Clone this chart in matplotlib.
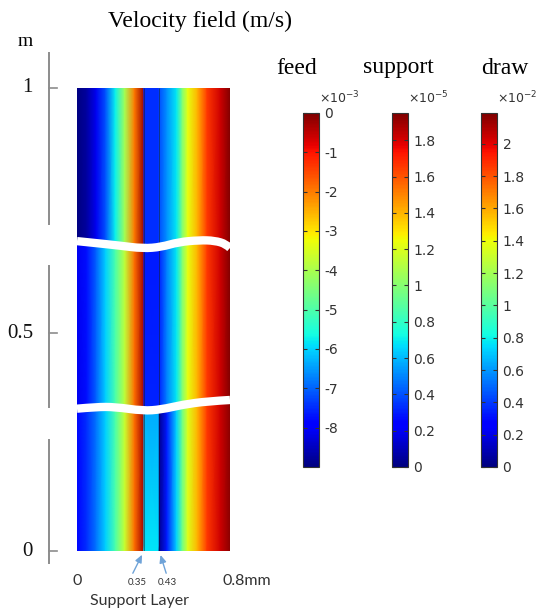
import numpy as np
import matplotlib
matplotlib.use("Agg")
import matplotlib.pyplot as plt
from matplotlib.patches import PathPatch
from matplotlib.path import Path
from matplotlib import colors, cm

plt.rcParams["axes.unicode_minus"] = False
plt.rcParams["mathtext.fontset"] = "dejavusans"

# ---------------- data ----------------
# feed channel velocity (x10^-3 m/s) across the feed side, per section (top, middle, bottom)
feed_x = [0.00, 0.05, 0.10, 0.15, 0.20, 0.25, 0.30, 0.35]
feed_top = [-9.00, -8.73, -8.10, -7.11, -5.76, -4.05, -1.98, -0.18]
feed_mid = [-8.10, -7.74, -7.02, -6.03, -5.04, -3.78, -1.89, -0.27]
feed_bot = [-7.83, -7.47, -6.84, -6.03, -5.04, -3.69, -1.89, -0.27]

# support layer velocity (x10^-5 m/s): value at upper / lower edge of each section
support_x = [0.35, 0.43]
support_upper = [0.33, 0.29, 0.57]
support_lower = [0.33, 0.31, 0.68]

# draw channel velocity (x10^-2 m/s)
draw_x = [0.43, 0.47, 0.52, 0.55, 0.58, 0.63, 0.68, 0.75, 0.80]
draw_top = [0.44, 0.59, 0.77, 1.10, 1.38, 1.58, 1.86, 2.04, 2.19]
draw_mid = [0.35, 0.55, 0.77, 1.10, 1.38, 1.58, 1.86, 2.04, 2.19]
draw_bot = [0.04, 0.33, 0.72, 1.05, 1.36, 1.58, 1.86, 2.04, 2.17]

# axis breaks (m): control points of the wavy break lines
break1_x = [0.0, 0.10, 0.22, 0.345, 0.44, 0.53, 0.64, 0.72, 0.78, 0.80]
break1_y = [0.688, 0.684, 0.679, 0.673, 0.676, 0.686, 0.690, 0.689, 0.682, 0.674]
break2_x = [0.0, 0.10, 0.20, 0.345, 0.44, 0.55, 0.68, 0.80]
break2_y = [0.327, 0.331, 0.331, 0.322, 0.325, 0.336, 0.344, 0.347]

# colorbar ranges and ticks
feed_range = (-9.0, 0.0)
support_range = (0.0, 1.95)
draw_range = (0.0, 2.19)
feed_ticks = [0, -1, -2, -3, -4, -5, -6, -7, -8]
support_ticks = [0, 0.2, 0.4, 0.6, 0.8, 1, 1.2, 1.4, 1.6, 1.8]
draw_ticks = [0, 0.2, 0.4, 0.6, 0.8, 1, 1.2, 1.4, 1.6, 1.8, 2]

y_ticks = [0, 0.5, 1]
y_ticklabels = ["0", "0.5", "1"]
axis_segments = [(1.071, 0.723), (0.637, 0.331), (0.255, -0.028)]

# ---------------- figure ----------------
W, H = 555, 615
fig = plt.figure(figsize=(W / 100, H / 100), dpi=100)

def fx(px):
    return px / W

def fy(py):
    return 1 - py / H

ax = fig.add_axes([fx(77), fy(551), fx(230) - fx(77), fy(88) - fy(551)])

def fwd(y):
    y = np.asarray(y, dtype=float)
    return np.where(y < 0.5, y * 0.94, 0.47 + (y - 0.5) * 1.06)

def inv(f):
    f = np.asarray(f, dtype=float)
    return np.where(f < 0.47, f / 0.94, 0.5 + (f - 0.47) / 1.06)

ax.set_yscale("function", functions=(fwd, inv))
ax.set_xlim(0, 0.8)
ax.set_ylim(0, 1)
ax.set_axis_off()

cmap = plt.get_cmap("jet")
feed_norm = colors.Normalize(*feed_range)
support_norm = colors.Normalize(*support_range)
draw_norm = colors.Normalize(*draw_range)


def smooth_segments(pts, start_code=Path.MOVETO):
    """Quadratic-Bezier smoothing through control points (vertices, codes)."""
    verts = [pts[0]]
    codes = [start_code]
    for i in range(1, len(pts) - 1):
        mid = ((pts[i][0] + pts[i + 1][0]) / 2, (pts[i][1] + pts[i + 1][1]) / 2)
        if i == len(pts) - 2:
            mid = pts[i + 1]
        verts += [pts[i], mid]
        codes += [Path.CURVE3, Path.CURVE3]
    return verts, codes


b1 = list(zip(break1_x, break1_y))
b2 = list(zip(break2_x, break2_y))


def region_path(upper, lower):
    verts, codes = [], []
    if upper is None:
        verts += [(0, 1), (0.8, 1)]
        codes += [Path.MOVETO, Path.LINETO]
    else:
        v, c = smooth_segments(upper)
        verts += v
        codes += c
    if lower is None:
        verts += [(0.8, 0), (0, 0)]
        codes += [Path.LINETO, Path.LINETO]
    else:
        v, c = smooth_segments(lower[::-1], Path.LINETO)
        verts += v
        codes += c
    verts.append((0, 0))
    codes.append(Path.CLOSEPOLY)
    return Path(verts, codes)


sections = [
    (region_path(None, b1), min(break1_y), 1.0, feed_top, support_upper[0], support_lower[0], draw_top),
    (region_path(b1, b2), min(break2_y), max(break1_y), feed_mid, support_upper[1], support_lower[1], draw_mid),
    (region_path(b2, None), 0.0, max(break2_y), feed_bot, support_upper[2], support_lower[2], draw_bot),
]

for path, ylo, yhi, fv, su, sl, dv in sections:
    clip = PathPatch(path, transform=ax.transData)
    # feed
    X = np.array([feed_x, feed_x])
    Y = np.array([[ylo] * len(feed_x), [yhi] * len(feed_x)])
    C = np.array([fv, fv])
    m = ax.pcolormesh(X, Y, C, shading="gouraud", cmap=cmap, norm=feed_norm)
    m.set_clip_path(clip)
    # support
    X = np.array([support_x, support_x])
    Y = np.array([[ylo, ylo], [yhi, yhi]])
    C = np.array([[sl, sl], [su, su]])
    m = ax.pcolormesh(X, Y, C, shading="gouraud", cmap=cmap, norm=support_norm)
    m.set_clip_path(clip)
    # draw
    X = np.array([draw_x, draw_x])
    Y = np.array([[ylo] * len(draw_x), [yhi] * len(draw_x)])
    C = np.array([dv, dv])
    m = ax.pcolormesh(X, Y, C, shading="gouraud", cmap=cmap, norm=draw_norm)
    m.set_clip_path(clip)

ax.vlines([support_x[0], support_x[1]], 0, 1, color="#1a1a1a", lw=0.6, alpha=0.6, zorder=3)
for b in (b1, b2):
    v, c = smooth_segments(b)
    ax.add_patch(PathPatch(Path(v, c), fill=False, edgecolor="white", lw=6.0,
                           capstyle="butt", clip_on=False, zorder=5))

# broken y axis
ytr = ax.get_yaxis_transform()
ax_x = (48.5 - 77) / 153
for y0, y1 in axis_segments:
    ax.plot([ax_x, ax_x], [y0, y1], transform=ytr, color="#8c8c8c", lw=1.4, clip_on=False)
for yt, lab in zip(y_ticks, y_ticklabels):
    ax.plot([ax_x, ax_x + 8 / 153], [yt, yt], transform=ytr, color="#8c8c8c", lw=1.2, clip_on=False)
    ax.text((33 - 77) / 153, yt, lab, transform=ytr, ha="right", va="center",
            family="Liberation Serif", fontsize=15, color="#111111")

fig.text(fx(25), fy(42), "m", ha="center", va="center", family="Liberation Serif", fontsize=14)

# bottom annotations
lab_kw = dict(family="Lato", color="#333333")
ax.annotate("0", xy=(0, 0), xytext=(0, -21.5), textcoords="offset points",
            ha="center", va="center", fontsize=11.5, annotation_clip=False, **lab_kw)
ax.annotate("0.8mm", xy=(0.8, 0), xytext=(-5.3, -21.5), textcoords="offset points",
            ha="left", va="center", fontsize=11.5, annotation_clip=False, **lab_kw)
arrow_kw = dict(arrowstyle="-|>,head_length=0.45,head_width=0.2", color="#6fa3d8", lw=1.0,
                shrinkA=0, shrinkB=3)
ax.annotate("", xy=(support_x[0], 0), xytext=(-8, -16), textcoords="offset points",
            arrowprops=arrow_kw, annotation_clip=False)
ax.annotate("", xy=(support_x[1], 0), xytext=(5, -16), textcoords="offset points",
            arrowprops=arrow_kw, annotation_clip=False)
ax.annotate("0.35", xy=(support_x[0], 0), xytext=(-5, -22.5), textcoords="offset points",
            ha="center", va="center", fontsize=7, annotation_clip=False, **lab_kw)
ax.annotate("0.43", xy=(support_x[1], 0), xytext=(5.5, -22.5), textcoords="offset points",
            ha="center", va="center", fontsize=7, annotation_clip=False, **lab_kw)
fig.text(fx(139), fy(601), "Support Layer", ha="center", va="center", fontsize=11.5, **lab_kw)

# title
fig.text(fx(200), fy(21), "Velocity field (m/s)", ha="center", va="center",
         family="Liberation Serif", fontsize=17)

# colorbars
bars = [
    ("feed", 303, feed_norm, feed_ticks, r"$\times10^{-3}$", 297),
    ("support", 392, support_norm, support_ticks, r"$\times10^{-5}$", 398),
    ("draw", 481, draw_norm, draw_ticks, r"$\times10^{-2}$", 505),
]
for name, left, norm, ticks, expo, tx in bars:
    cax = fig.add_axes([fx(left), fy(467), 16 / W, fy(113) - fy(467)])
    sm = cm.ScalarMappable(norm=norm, cmap=cmap)
    cb = fig.colorbar(sm, cax=cax)
    cb.set_ticks(ticks)
    cb.set_ticklabels(["%g" % t for t in ticks])
    cb.outline.set_edgecolor("#333333")
    cb.outline.set_linewidth(0.8)
    cax.tick_params(direction="in", left=True, right=True, length=3, width=0.8,
                    color="#333333", labelsize=10, labelcolor="#333333", pad=4)
    cax.text(1.0, 1.02, expo, transform=cax.transAxes, ha="left", va="bottom",
             fontsize=9, color="#333333")
    fig.text(fx(tx), fy(68), name, ha="center", va="center",
             family="Liberation Serif", fontsize=17)

fig.savefig("out.png", dpi=100)
